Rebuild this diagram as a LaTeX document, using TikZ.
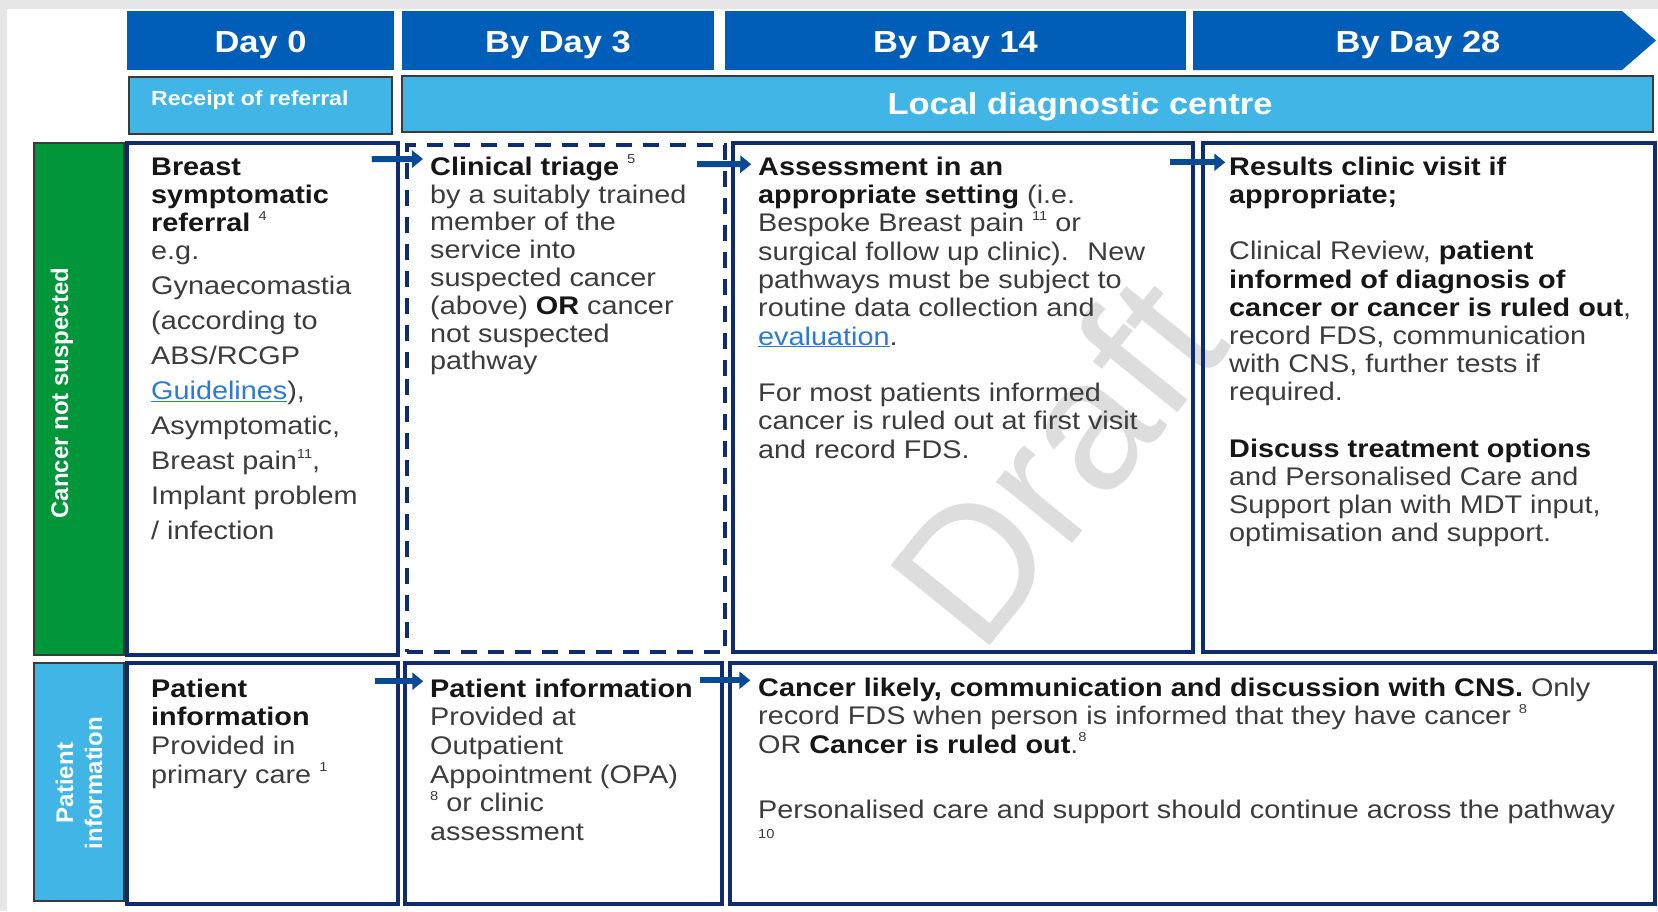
\documentclass[tikz,border=0pt]{standalone}
\usepackage{fontspec}
\setmainfont{Liberation Sans}[FakeStretch=1.13]
\newfontfamily\plainsf{Liberation Sans}
\usetikzlibrary{arrows.meta,fit,calc}
\definecolor{nhsblue}{HTML}{005EB8}
\definecolor{lightblue}{HTML}{41B6E6}
\definecolor{nhsgreen}{HTML}{009639}
\definecolor{navy}{HTML}{0E2C6E}
\definecolor{arrowblue}{HTML}{0A4A94}
\definecolor{txt}{HTML}{3C3C3C}
\definecolor{bld}{HTML}{161616}
\definecolor{linkblue}{HTML}{2B7BD6}
\definecolor{wm}{HTML}{DDDDDD}
\definecolor{greybg}{HTML}{E6E6E6}
\definecolor{edgegrey}{HTML}{3A3A3A}
\newcommand{\B}[1]{{\bfseries\color{bld}#1}}
\newcommand{\fnum}[1]{\raisebox{0.45em}{\fontsize{13}{13}\selectfont #1}}
\newcommand{\lnk}[1]{{\color{linkblue}\underline{#1}}}
\newcommand{\fs}{\rule{0pt}{22pt}}
\begin{document}
\begin{tikzpicture}[x=1pt,y=-1pt,
  hdr/.style={fill=nhsblue, inner sep=0pt},
  hdrtxt/.style={anchor=base, inner sep=0pt, text=white, font=\bfseries\fontsize{30.5}{32}\selectfont},
  subbox/.style={fill=lightblue, draw=edgegrey, line width=1.2pt, inner sep=0pt},
  sidebox/.style={draw=edgegrey, line width=1.2pt, inner sep=0pt},
  box/.style={draw=navy, line width=3.5pt, inner sep=0pt},
  dbox/.style={draw=navy, line width=4pt, dash pattern=on 16pt off 11pt, inner sep=0pt},
  body/.style={anchor=north west, inner sep=0pt, align=left, text=txt, font=\fontsize{25.5}{28.3}\selectfont},
  arr/.style={draw=arrowblue, line width=6pt, -{Triangle[length=11pt,width=17pt]}},
  sidetxt/.style={text=white, rotate=90, align=center, font=\plainsf\bfseries\fontsize{24}{29}\selectfont}
]
\useasboundingbox (0,0) rectangle (1658,911);
\fill[greybg] (0,0) rectangle (1658,911);
\fill[white] (7,9) rectangle (1658,911);

% watermark
\node[rotate=51, text=wm, inner sep=0pt, font=\plainsf\fontsize{185}{185}\selectfont] (wmk) at (1055,460) {Draft};

% header row
\node[hdr, fit={(127,11) (394,70)}] (d0) {};
\node[hdr, fit={(402,11) (714,70)}] (d3) {};
\node[hdr, fit={(725,11) (1186,70)}] (d14) {};
\fill[nhsblue] (1193,11) -- (1622,11) -- (1656,40.5) -- (1622,70) -- (1193,70) -- cycle;
\coordinate (d28) at (1418,40.5);
\node[hdrtxt] (d0t) at ($(d0.center)+(0,11.5)$) {Day 0};
\node[hdrtxt] (d3t) at ($(d3.center)+(0,11.5)$) {By Day 3};
\node[hdrtxt] (d14t) at ($(d14.center)+(0,11.5)$) {By Day 14};
\node[hdrtxt] (d28t) at ($(d28)+(0,11.5)$) {By Day 28};

% second row
\node[subbox, fit={(129,77) (392,134)}] (rec) {};
\node[anchor=base west, inner sep=0pt, text=white, font=\bfseries\fontsize{20.4}{22}\selectfont] (rectxt) at (151,105) {Receipt of referral};
\node[subbox, fit={(402,76) (1653,132)}] (ldc) {};
\node[hdrtxt] (ldctxt) at (1080,114) {Local diagnostic centre};

% side labels
\node[sidebox, fill=nhsgreen, fit={(34,143) (124,655)}] (gsl) {};
\node[sidetxt] (gsltxt) at (62,393) {Cancer not suspected};
\node[sidebox, fill=lightblue, fit={(34,663) (124,901)}] (psl) {};
\node[sidetxt] (psltxt) at (79,783) {Patient\\information};

% main boxes
\node[box, fit={(127,143) (398,655)}] (b1) {};
\node[dbox, fit={(407,145) (725,652)}] (b2) {};
\node[box, fit={(733,143) (1193,652)}] (b3) {};
\node[box, fit={(1203,143) (1655,652)}] (b4) {};
\node[box, fit={(127,663) (398,904)}] (b5) {};
\node[box, fit={(405,663) (722,904)}] (b6) {};
\node[box, fit={(730,663) (1655,904)}] (b7) {};

% texts
\node[body] (t1) at (151,153) {\fs\B{Breast}\\
\B{symptomatic}\\
\B{referral} \fnum{4}\\[-1pt]
e.g.\\[7.5pt]
Gynaecomastia\\[6.7pt]
(according to\\[6.7pt]
ABS/RCGP\\[6.7pt]
\lnk{Guidelines}),\\[6.7pt]
Asymptomatic,\\[6.7pt]
Breast pain\fnum{11},\\[6.7pt]
Implant problem\\[6.7pt]
/ infection};

\node[body, font=\fontsize{25.5}{27.8}\selectfont] (t2) at (430,153) {\fs\B{Clinical triage} \fnum{5}\\
by a suitably trained\\
member of the\\
service into\\
suspected cancer\\
(above) \B{OR} cancer\\
not suspected\\
pathway};

\node[body] (t3) at (758,153) {\fs\B{Assessment in an}\\
\B{appropriate setting} (i.e.\\
Bespoke Breast pain \fnum{11} or\\
surgical follow up clinic).~ New\\
pathways must be subject to\\
routine data collection and\\
\lnk{evaluation}.\\[28.3pt]
For most patients informed\\
cancer is ruled out at first visit\\
and record FDS.};

\node[body, font=\fontsize{25.5}{28.2}\selectfont] (t4) at (1229,153) {\fs\B{Results clinic visit if}\\
\B{appropriate;}\\[28.2pt]
Clinical Review, \B{patient}\\
\B{informed of diagnosis of}\\
\B{cancer or cancer is ruled out},\\
record FDS, communication\\
with CNS, further tests if\\
required.\\[28.2pt]
\B{Discuss treatment options}\\
and Personalised Care and\\
Support plan with MDT input,\\
optimisation and support.};

\node[body, font=\fontsize{25.5}{28.6}\selectfont] (t5) at (151,675) {\fs\B{Patient}\\
\B{information}\\
Provided in\\
primary care \fnum{1}};

\node[body, font=\fontsize{25.5}{28.6}\selectfont] (t6) at (430,675) {\fs\B{Patient information}\\
Provided at\\
Outpatient\\
Appointment (OPA)\\
\fnum{8} or clinic\\
assessment};

\node[body, font=\fontsize{25.5}{28.4}\selectfont] (t7) at (758,674) {\fs\B{Cancer likely, communication and discussion with CNS.} Only\\
record FDS when person is informed that they have cancer \fnum{8}\\
OR \B{Cancer is ruled out}.\fnum{8}\\[37pt]
Personalised care and support should continue across the pathway\\[-8pt]
{\fontsize{13}{13}\selectfont 10}};

% arrows
\draw[arr] ($(b1.north east)+(-28,18)$) -- ($(b2.north west)+(18,16)$);
\draw[arr] ($(b2.north east)+(-30,21)$) -- ($(b3.north west)+(20,23)$);
\draw[arr] ($(b3.north east)+(-25,21)$) -- ($(b4.north west)+(24,21)$);
\draw[arr] ($(b5.north east)+(-25,20)$) -- ($(b6.north west)+(20,20)$);
\draw[arr] ($(b6.north east)+(-24,19)$) -- ($(b7.north west)+(22,19)$);
\end{tikzpicture}
\end{document}
